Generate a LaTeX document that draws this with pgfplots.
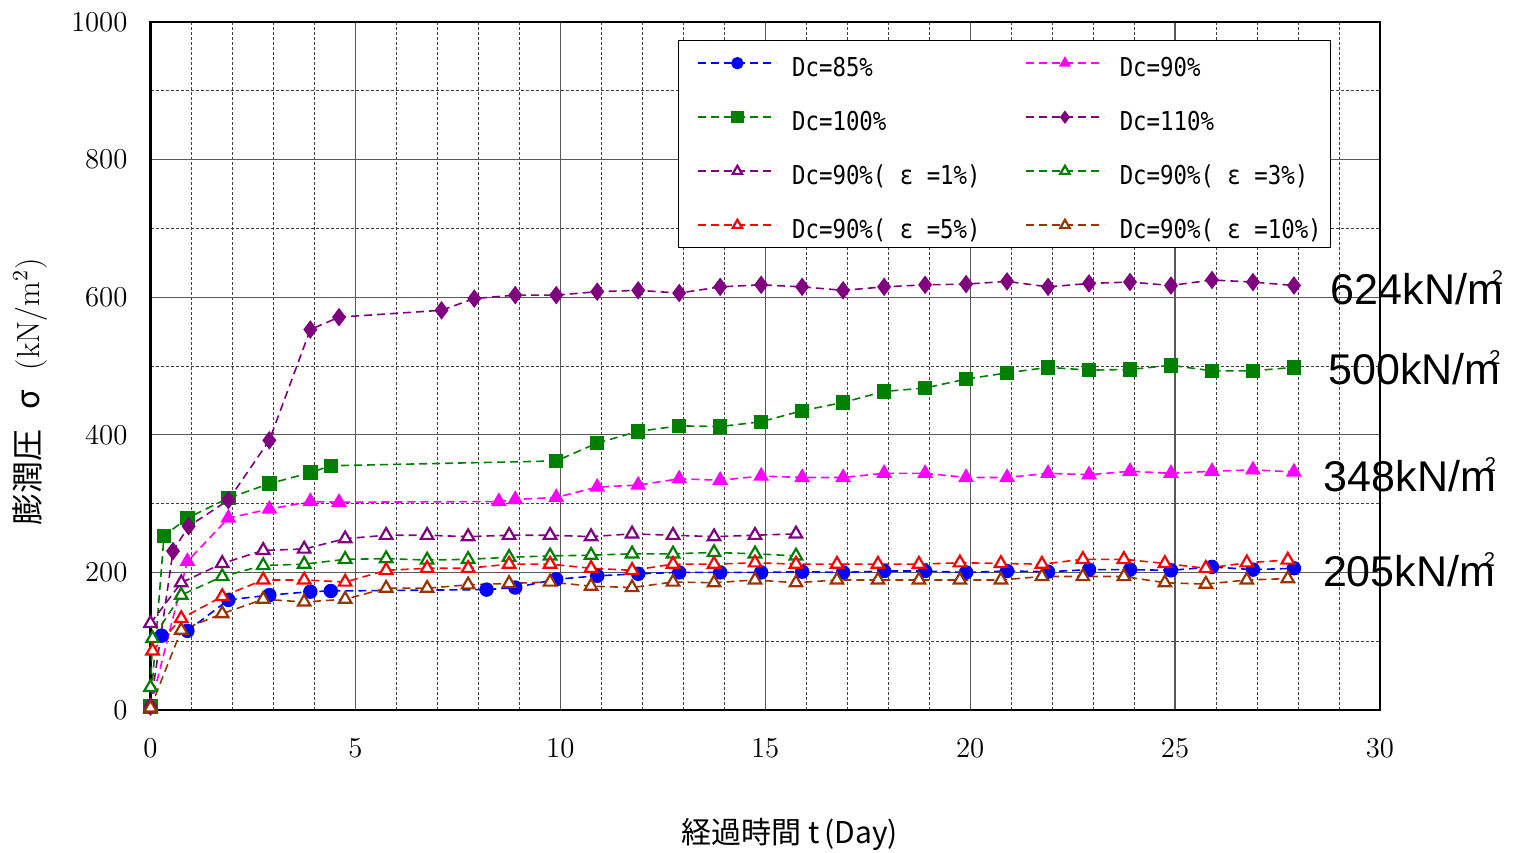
\documentclass[border=0pt]{standalone}
\usepackage{pgfplots}
\pgfplotsset{compat=1.18}
\usepackage{fontspec}
\newfontfamily\cjk{Noto Sans CJK JP}
\newfontfamily\legfont[FakeStretch=0.86]{DejaVu Sans Mono}
\newfontfamily\annfont{Liberation Sans}
\definecolor{cBlue}{RGB}{0,0,255}
\definecolor{cMag}{RGB}{255,0,255}
\definecolor{cGreen}{RGB}{0,128,0}
\definecolor{cPurp}{RGB}{128,0,128}
\definecolor{cRed}{RGB}{255,0,0}
\definecolor{cBrown}{RGB}{153,51,0}
\newcommand{\lgA}[1]{\makebox[109pt][l]{\rule[-1.8pt]{0pt}{17pt}#1}}
\newcommand{\lgB}[1]{\makebox[96pt][l]{\rule[-1.8pt]{0pt}{17pt}#1}}
\newcommand{\ann}[1]{#1kN/m\llap{\raisebox{10pt}{\fontsize{10}{10}\selectfont 2}}}
\pgfplotsset{
  ser/.style={color=#1, dash pattern=on 4pt off 2.5pt, line width=0.8pt},
  fm/.style={mark options={solid, fill=#1}},
  om/.style={mark=triangle*, mark size=3.6pt, mark options={solid, fill=white, line width=1.1pt}},
}
\begin{document}
\begin{tikzpicture}
\path[use as bounding box] (0,0) rectangle (757.5pt,426pt);
\begin{axis}[
  at={(75.25pt,71pt)}, anchor=south west,
  scale only axis, width=614.75pt, height=344pt,
  xmin=0, xmax=30, ymin=0, ymax=1000,
  xtick={0,5,...,30}, ytick={0,200,...,1000},
  minor x tick num=4, minor y tick num=1,
  /pgf/number format/1000 sep={},
  grid=both,
  major grid style={draw=black!65, line width=0.6pt},
  minor grid style={draw=black!75, line width=0.5pt, dash pattern=on 1.5pt off 1pt},
  tick style={draw=none},
  axis line style={line width=1.3pt},
  ticklabel style={font=\fontsize{15}{15}\selectfont},
  yticklabel style={xshift=-8pt},
  xticklabel style={yshift=-11pt},
  clip=false,
  every axis x label/.style={at={(axis description cs:0.52,-0.181)}, anchor=center, font=\fontsize{15}{18}\selectfont},
  every axis y label/.style={at={(axis description cs:-0.0976,0.462)}, rotate=90, anchor=center, font=\fontsize{16}{19}\selectfont},
  xlabel={{\cjk 経過時間 t\,(Day)}},
  ylabel={{\cjk 膨潤圧\hspace{10pt}σ\hspace{10pt}}(kN/m$^2$)},
  legend columns=2,
  legend cell align=left,
  legend image code/.code={\draw[mark repeat=2, mark phase=2, #1, mark size=2.7pt] plot coordinates {(0pt,0pt) (19.5pt,0pt) (39pt,0pt)};},
  legend style={at={(0.429,0.974)}, anchor=north west, draw=black, line width=0.6pt,
    inner xsep=9.5pt, inner ysep=3pt, column sep=7.5pt, row sep=10.3pt,
    font=\legfont\fontsize{13}{14}\selectfont, nodes={inner sep=0pt}},
]
\addplot[ser=cBlue, mark=*, mark size=3.2pt, fm=cBlue] coordinates {
(0.27,108)(0.9,115)(1.9,160)(2.9,167)(3.9,172)(4.4,173)(8.2,175)(8.9,178)(9.9,190)(10.9,195)(11.9,198)(12.9,200)(13.9,200)(14.9,200)(15.9,201)(16.9,200)(17.9,202)(18.9,202)(19.9,200)(20.9,202)(21.9,201)(22.9,204)(23.9,204)(24.9,203)(25.9,208)(26.9,204)(27.9,206)};
\addlegendentry{\lgA{Dc=85\%}}
\addplot[ser=cMag, mark=triangle*, mark size=3.8pt, fm=cMag] coordinates {
(0,5)(0.9,216)(1.9,279)(2.9,292)(3.9,303)(4.6,302)(8.5,303)(8.9,306)(9.9,309)(10.9,324)(11.9,327)(12.9,336)(13.9,334)(14.9,340)(15.9,338)(16.9,338)(17.9,344)(18.9,344)(19.9,338)(20.9,338)(21.9,344)(22.9,342)(23.9,347)(24.9,344)(25.9,347)(26.9,349)(27.9,346)};
\addlegendentry{\lgB{Dc=90\%}}
\addplot[ser=cGreen, mark=square*, mark size=3.2pt, fm=cGreen] coordinates {
(0,5)(0.33,253)(0.9,279)(1.9,308)(2.9,329)(3.9,345)(4.4,355)(9.9,362)(10.9,388)(11.9,405)(12.9,413)(13.9,412)(14.9,419)(15.9,435)(16.9,447)(17.9,463)(18.9,468)(19.9,481)(20.9,490)(21.9,498)(22.9,494)(23.9,495)(24.9,501)(25.9,493)(26.9,493)(27.9,498)};
\addlegendentry{\lgA{Dc=100\%}}
\addplot[ser=cPurp, mark=diamond*, mark size=4pt, fm=cPurp] coordinates {
(0,5)(0.55,231)(0.93,267)(1.9,305)(2.9,392)(3.9,553)(4.6,571)(7.1,581)(7.9,598)(8.9,603)(9.9,603)(10.9,608)(11.9,610)(12.9,606)(13.9,615)(14.9,618)(15.9,615)(16.9,610)(17.9,615)(18.9,618)(19.9,619)(20.9,623)(21.9,615)(22.9,620)(23.9,622)(24.9,617)(25.9,625)(26.9,622)(27.9,617)};
\addlegendentry{\lgB{Dc=110\%}}
\addplot[ser=cPurp, om] coordinates {
(0,126)(0.75,185)(1.75,213)(2.75,232)(3.75,234)(4.75,249)(5.75,254)(6.75,254)(7.75,252)(8.75,254)(9.75,254)(10.75,252)(11.75,256)(12.75,254)(13.75,252)(14.75,254)(15.75,256)};
\addlegendentry{\lgA{Dc=90\%( ε =1\%)}}
\addplot[ser=cGreen, om] coordinates {
(0,33)(0.05,104)(0.75,167)(1.75,194)(2.75,210)(3.75,212)(4.75,219)(5.75,220)(6.75,218)(7.75,219)(8.75,222)(9.75,224)(10.75,225)(11.75,227)(12.75,227)(13.75,229)(14.75,227)(15.75,224)};
\addlegendentry{\lgB{Dc=90\%( ε =3\%)}}
\addplot[ser=cRed, om] coordinates {
(0.05,86)(0.75,133)(1.75,165)(2.75,189)(3.75,189)(4.75,186)(5.75,203)(6.75,206)(7.75,206)(8.75,212)(9.75,212)(10.75,206)(11.75,203)(12.75,212)(13.75,212)(14.75,214)(15.75,212)(16.75,212)(17.75,212)(18.75,212)(19.75,214)(20.75,213)(21.75,212)(22.75,219)(23.75,219)(24.75,213)(25.75,206)(26.75,214)(27.75,218)};
\addlegendentry{\lgA{Dc=90\%( ε =5\%)}}
\addplot[ser=cBrown, om] coordinates {
(0,3)(0.75,116)(1.75,140)(2.75,161)(3.75,157)(4.75,161)(5.75,177)(6.75,177)(7.75,182)(8.75,184)(9.75,186)(10.75,180)(11.75,178)(12.75,186)(13.75,185)(14.75,189)(15.75,185)(16.75,189)(17.75,189)(18.75,189)(19.75,189)(20.75,189)(21.75,194)(22.75,194)(23.75,194)(24.75,185)(25.75,183)(26.75,189)(27.75,191)};
\addlegendentry{\lgB{Dc=90\%( ε =10\%)}}
\node[anchor=base west, inner sep=0pt, font=\annfont\fontsize{21.5}{24}\selectfont] at (axis cs:28.79,588.7) {\ann{624}};
\node[anchor=base west, inner sep=0pt, font=\annfont\fontsize{21.5}{24}\selectfont] at (axis cs:28.73,472.4) {\ann{500}};
\node[anchor=base west, inner sep=0pt, font=\annfont\fontsize{21.5}{24}\selectfont] at (axis cs:28.62,317.3) {\ann{348}};
\node[anchor=base west, inner sep=0pt, font=\annfont\fontsize{21.5}{24}\selectfont] at (axis cs:28.6,179.2) {\ann{205}};
\end{axis}
\end{tikzpicture}
\end{document}
